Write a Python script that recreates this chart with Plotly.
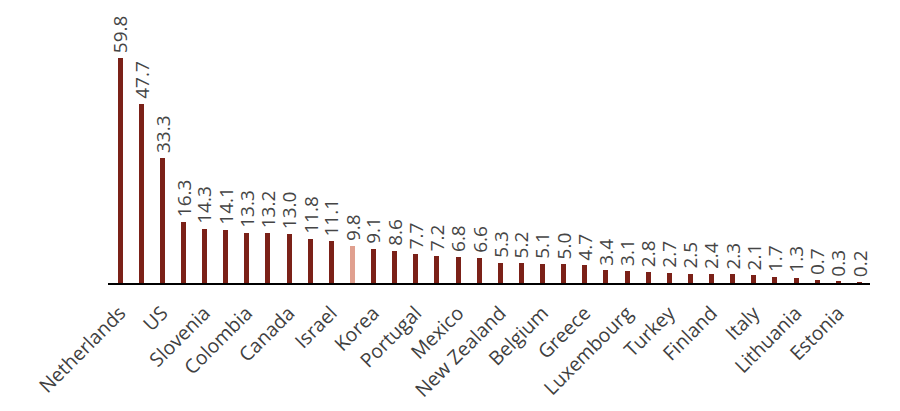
import plotly.graph_objects as go

values = [59.8, 47.7, 33.3, 16.3, 14.3, 14.1, 13.3, 13.2, 13.0, 11.8, 11.1, 9.8,
          9.1, 8.6, 7.7, 7.2, 6.8, 6.6, 5.3, 5.2, 5.1, 5.0, 4.7, 3.4, 3.1, 2.8,
          2.7, 2.5, 2.4, 2.3, 2.1, 1.7, 1.3, 0.7, 0.3, 0.2]
tick_labels = ["Netherlands", "US", "Slovenia", "Colombia", "Canada", "Israel",
               "Korea", "Portugal", "Mexico", "New Zealand", "Belgium", "Greece",
               "Luxembourg", "Turkey", "Finland", "Italy", "Lithuania", "Estonia"]
highlight_index = 11

positions = list(range(len(values)))
tick_positions = positions[::2]
colors = ["#E0A08F" if i == highlight_index else "#7B2118" for i in positions]

fig = go.Figure(go.Bar(
    x=positions, y=values, width=0.24,
    marker=dict(color=colors, line=dict(width=0)),
    hoverinfo="x+y",
))

for p, v in zip(positions, values):
    fig.add_annotation(
        x=p, y=v, text=f"{v:.1f}", showarrow=False, textangle=-90,
        xanchor="center", yanchor="bottom", yshift=3,
        font=dict(family="Open Sans", size=19, color="#454545"),
    )

fig.update_layout(
    width=900, height=411,
    margin=dict(l=100, r=38, t=2, b=136),
    paper_bgcolor="white", plot_bgcolor="white",
    showlegend=False,
    bargap=0,
    xaxis=dict(range=[-0.57, 35.5], tickvals=tick_positions, ticktext=tick_labels,
               tickangle=-45, showgrid=False, zeroline=False, automargin=False,
               showline=True, linecolor="black", linewidth=2,
               ticks="", ticklabelstandoff=9,
               tickfont=dict(family="Open Sans", size=19.5, color="#404040")),
    yaxis=dict(range=[0, 72.6], visible=False, showgrid=False, zeroline=False,
               automargin=False),
)

fig.write_html("out.html")
